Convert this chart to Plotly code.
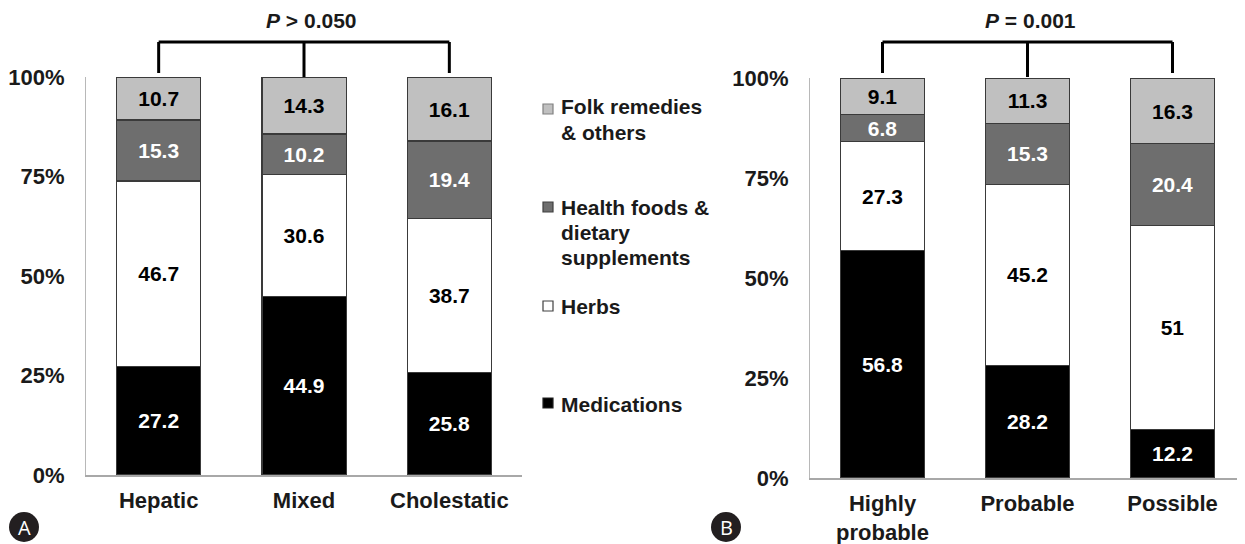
import plotly.graph_objects as go

# ---- data ----
cats_a = ["Hepatic", "Mixed", "Cholestatic"]
cats_b = ["Highly<br>probable", "Probable", "Possible"]

series_names = ["Medications", "Herbs", "Health foods & dietary supplements", "Folk remedies & others"]
medications_a = [27.2, 44.9, 25.8]
herbs_a = [46.7, 30.6, 38.7]
health_a = [15.3, 10.2, 19.4]
folk_a = [10.7, 14.3, 16.1]

medications_b = [56.8, 28.2, 12.2]
herbs_b = [27.3, 45.2, 51]
health_b = [6.8, 15.3, 20.4]
folk_b = [9.1, 11.3, 16.3]

y_tickvals = [0, 25, 50, 75, 100]
y_ticktext = ["0%", "25%", "50%", "75%", "100%"]

p_text_a = "<i>P</i> > 0.050"
p_text_b = "<i>P</i> = 0.001"

legend_lines = [
    ["Medications"],
    ["Herbs"],
    ["Health foods &", "dietary", "supplements"],
    ["Folk remedies", "& others"],
]

# ---- styling ----
OFF = 8  # page body margin of the html page
W, H = 1245 - OFF, 544 - OFF
FONT = "Arial, Liberation Sans, sans-serif"
fill_colors = ["#000000", "#ffffff", "#6e6e6e", "#c0c0c0"]
text_colors = ["#ffffff", "#000000", "#ffffff", "#000000"]


def px_x(x):
    return (x - OFF) / W


def px_y(y):
    return (H - (y - OFF)) / H


fig = go.Figure()

panel_a = [medications_a, herbs_a, health_a, folk_a]
panel_b = [medications_b, herbs_b, health_b, folk_b]

for i, name in enumerate(series_names):
    for cats, vals, xa, ya in [(cats_a, panel_a[i], "x", "y"), (cats_b, panel_b[i], "x2", "y2")]:
        fig.add_trace(go.Bar(
            x=cats, y=vals, name=name, xaxis=xa, yaxis=ya,
            marker=dict(color=fill_colors[i], line=dict(color="#3a3a3a", width=1.3)),
            text=[f"{v:g}" for v in vals],
            textposition="inside", insidetextanchor="middle", textangle=0,
            textfont=dict(family=FONT, size=21, color=text_colors[i], weight="bold"),
            showlegend=False, hoverinfo="skip",
        ))

axis_font = dict(family=FONT, size=22, color="#1a1a1a", weight="bold")

xa_dom = [px_x(86), px_x(522)]
ya_dom = [px_y(475), px_y(77)]
xb_dom = [px_x(810), 1.0]
yb_dom = [px_y(478), px_y(78)]

common_x = dict(type="category", range=[-0.5, 2.5], showline=True, linecolor="#a8a8a8", linewidth=1.5,
                ticks="outside", ticklen=5, tickcolor="rgba(0,0,0,0)", tickfont=axis_font,
                showgrid=False, zeroline=False, fixedrange=True, automargin=False)
common_y = dict(range=[0, 100], tickvals=y_tickvals, ticktext=y_ticktext, showline=True,
                linecolor="#b8b8b8", linewidth=1.2, ticks="outside", ticklen=16,
                tickcolor="rgba(0,0,0,0)", tickfont=axis_font, showgrid=False, zeroline=False,
                fixedrange=True, automargin=False)

fig.update_layout(
    width=W, height=H, margin=dict(l=0, r=0, t=0, b=0, autoexpand=False),
    paper_bgcolor="white", plot_bgcolor="white",
    barmode="stack", bargap=0.42,
    uniformtext=dict(minsize=21, mode="show"),
    xaxis=dict(domain=xa_dom, anchor="y", **common_x),
    yaxis=dict(domain=ya_dom, anchor="x", **common_y),
    xaxis2=dict(domain=xb_dom, anchor="y2", **common_x),
    yaxis2=dict(domain=yb_dom, anchor="x2", **common_y),
)

shapes = []
annotations = []

# brackets with P-values
for xr, yr, base, top, txt, tx in [("x domain", "y domain", 475, 77, p_text_a, 0.518),
                                   ("x2 domain", "y2 domain", 478, 78, p_text_b, 0.508)]:
    span = base - top
    y_h = (base - 42) / span
    y_end = (base - 73) / span
    y_mid = (base - 77) / span
    xs = [(k + 0.5) / 3 for k in range(3)]
    line = dict(color="black", width=3)
    shapes.append(dict(type="line", xref=xr, yref=yr, x0=xs[0], x1=xs[2], y0=y_h, y1=y_h, line=line))
    shapes.append(dict(type="line", xref=xr, yref=yr, x0=xs[0], x1=xs[0], y0=y_h, y1=y_end, line=line))
    shapes.append(dict(type="line", xref=xr, yref=yr, x0=xs[1], x1=xs[1], y0=y_h, y1=y_mid, line=line))
    shapes.append(dict(type="line", xref=xr, yref=yr, x0=xs[2], x1=xs[2], y0=y_h, y1=y_end, line=line))
    annotations.append(dict(text=txt, xref=xr, yref=yr, x=tx, y=(base - 21) / span,
                            showarrow=False, xanchor="center", yanchor="middle",
                            font=dict(family=FONT, size=21, color="#1a1a1a", weight="bold")))

# legend (manual)
legend_items = [  # (series index, first line center y, square center y)
    (3, 107, 109),
    (2, 207, 207),
    (1, 306, 306),
    (0, 404, 403),
]
border_cols = ["#202020", "#404040", "#404040", "#808080"]
for idx, ty, sy in legend_items:
    shapes.append(dict(type="rect", xref="paper", yref="paper",
                       x0=px_x(543), x1=px_x(553), y0=px_y(sy + 5), y1=px_y(sy - 5),
                       fillcolor=fill_colors[idx], line=dict(color=border_cols[idx], width=1.2)))
    for k, ln in enumerate(legend_lines[idx]):
        annotations.append(dict(text=ln, xref="paper", yref="paper",
                                x=px_x(559), y=px_y(ty + 25 * k), xanchor="left", yanchor="middle",
                                align="left", showarrow=False,
                                font=dict(family=FONT, size=21, color="#1a1a1a", weight="bold")))

# panel badges
for letter, cx, cy in [("A", 24, 527), ("B", 726, 527)]:
    r = 15
    shapes.append(dict(type="circle", xref="paper", yref="paper",
                       x0=px_x(cx - r), x1=px_x(cx + r), y0=px_y(cy + r), y1=px_y(cy - r),
                       fillcolor="#231f20", line=dict(width=0)))
    annotations.append(dict(text=letter, xref="paper", yref="paper", x=px_x(cx), y=px_y(cy),
                            xanchor="center", yanchor="middle", showarrow=False,
                            font=dict(family="Open Sans, Noto Sans, sans-serif", size=20, color="white")))

fig.update_layout(shapes=shapes, annotations=annotations)
fig.write_html("out.html")
